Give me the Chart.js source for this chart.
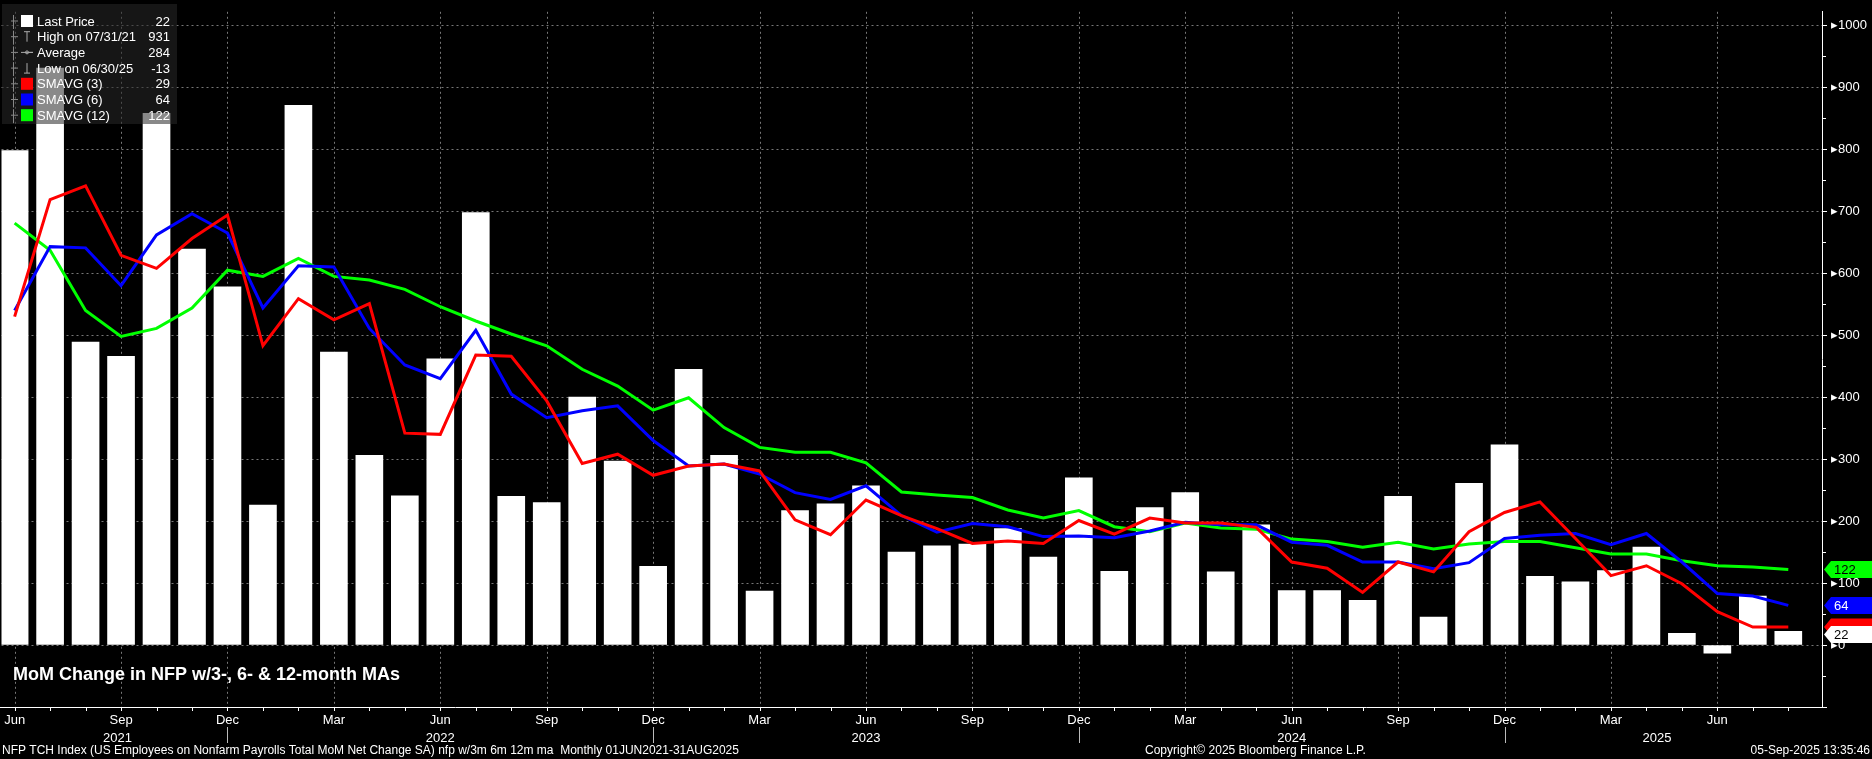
<!DOCTYPE html>
<html>
<head>
<meta charset="utf-8">
<script src="https://cdn.jsdelivr.net/npm/chart.js@4.4.1/dist/chart.umd.min.js"></script>
<style>
  html, body { margin: 0; padding: 0; background: #000; }
  #wrap { width: 1872px; height: 759px; position: relative; }
</style>
</head>
<body>
<div id="wrap"><canvas id="grafico"></canvas></div>
<script>
// ---------- dados (Jun 2021 .. Aug 2025, mensal) ----------
const meses = ['Jun','Jul','Aug','Sep','Oct','Nov','Dec','Jan','Feb','Mar','Apr','May'];
const labels = [];
for (let i = 0; i < 51; i++) labels.push(meses[i % 12]);

const nfp = [798, 931, 489, 466, 858, 639, 578, 226, 871, 473, 306, 241,
             462, 698, 240, 230, 400, 297, 127, 445, 306, 87, 217, 228,
             257, 150, 160, 163, 188, 142, 270, 119, 222, 246, 118, 194,
             88, 88, 72, 240, 45, 261, 323, 111, 102, 120, 158, 19,
             -13, 79, 22];

const sma3 = [530, 719, 741, 629, 608, 656, 694, 483, 559, 525, 551, 342,
              340, 468, 466, 394, 293, 308, 274, 289, 292, 281, 202, 178,
              234, 209, 188, 164, 168, 164, 201, 179, 205, 197, 197, 190,
              134, 124, 85, 134, 118, 183, 214, 231, 172, 112, 128, 99,
              54, 29, 29];

const sma6 = [540, 643, 641, 580, 662, 696, 665, 544, 612, 610, 511, 452,
              430, 508, 405, 367, 378, 386, 330, 289, 292, 276, 246, 235,
              257, 209, 182, 196, 191, 175, 176, 173, 184, 198, 194, 194,
              166, 161, 134, 134, 123, 133, 172, 177, 180, 162, 180, 134,
              83, 79, 64];

const sma12 = [681, 637, 540, 498, 511, 544, 605, 595, 624, 595, 589, 574,
               546, 523, 502, 483, 445, 418, 379, 399, 351, 319, 311, 311,
               294, 247, 242, 238, 218, 205, 217, 191, 183, 197, 189, 187,
               171, 167, 158, 166, 155, 163, 167, 167, 157, 147, 147, 136,
               128, 126, 122];

// rótulos do eixo X
const trimestres = [0, 3, 6, 9, 12, 15, 18, 21, 24, 27, 30, 33, 36, 39, 42, 45, 48];
const anos = [{ t: '2021', i: 2.9 }, { t: '2022', i: 12 }, { t: '2023', i: 24 },
              { t: '2024', i: 36 }, { t: '2025', i: 46.3 }];
const divisoresAno = [6, 18, 30, 42];

const legenda = [
  { txt: 'Last Price', val: '22', cor: '#ffffff', tipo: 'box' },
  { txt: 'High on 07/31/21', val: '931', tipo: 'high' },
  { txt: 'Average', val: '284', tipo: 'avg' },
  { txt: 'Low on 06/30/25', val: '-13', tipo: 'low' },
  { txt: 'SMAVG (3)', val: '29', cor: '#ff0000', tipo: 'box' },
  { txt: 'SMAVG (6)', val: '64', cor: '#0000ff', tipo: 'box' },
  { txt: 'SMAVG (12)', val: '122', cor: '#00ff00', tipo: 'box' }
];

const FONTE = '"Liberation Sans", Arial, sans-serif';

const pts = arr => arr.map((v, i) => ({ x: i, y: v }));

// ---------- plugin: eixo X, legenda e etiquetas ----------
const extras = {
  id: 'extras',
  beforeDatasetsDraw(chart) {
    const { ctx, chartArea: a, scales: { x } } = chart;
    ctx.save();
    ctx.strokeStyle = '#777';
    ctx.lineWidth = 1;
    ctx.setLineDash([2, 3]);
    trimestres.forEach(i => {
      const px = Math.round(x.getPixelForValue(i)) + 0.5;
      ctx.beginPath(); ctx.moveTo(px, a.top); ctx.lineTo(px, a.bottom); ctx.stroke();
    });
    ctx.restore();
  },
  afterDraw(chart) {
    const { ctx, chartArea: a, scales: { x, y } } = chart;
    ctx.save();

    // linha do eixo X + marcas
    ctx.strokeStyle = '#fff';
    ctx.lineWidth = 1;
    ctx.beginPath(); ctx.moveTo(0, a.bottom + 0.5); ctx.lineTo(a.right, a.bottom + 0.5); ctx.stroke();
    for (let i = 0; i < 51; i++) {
      const px = Math.round(x.getPixelForValue(i)) + 0.5;
      ctx.beginPath(); ctx.moveTo(px, a.bottom); ctx.lineTo(px, a.bottom + 4); ctx.stroke();
    }
    ctx.fillStyle = '#fff';
    ctx.font = '13px ' + FONTE;
    ctx.textAlign = 'center';
    ctx.textBaseline = 'middle';
    trimestres.forEach(i => ctx.fillText(labels[i], x.getPixelForValue(i), a.bottom + 13));
    anos.forEach(o => ctx.fillText(o.t, x.getPixelForValue(o.i), a.bottom + 31));
    ctx.strokeStyle = '#bbb';
    divisoresAno.forEach(i => {
      const px = Math.round(x.getPixelForValue(i)) + 0.5;
      ctx.beginPath(); ctx.moveTo(px, a.bottom + 20); ctx.lineTo(px, a.bottom + 36); ctx.stroke();
    });

    // marcas menores do eixo Y (50s)
    ctx.strokeStyle = '#fff';
    for (let v = -50; v <= 1000; v += 100) {
      const py = Math.round(y.getPixelForValue(v)) + 0.5;
      ctx.beginPath(); ctx.moveTo(a.right, py); ctx.lineTo(a.right + 4, py); ctx.stroke();
    }

    // rodapé
    ctx.font = '12px ' + FONTE;
    ctx.textAlign = 'left';
    ctx.fillText('NFP TCH Index (US Employees on Nonfarm Payrolls Total MoM Net Change SA) nfp w/3m 6m 12m ma  Monthly 01JUN2021-31AUG2025', 2, 751);
    ctx.fillText('Copyright\u00a9 2025 Bloomberg Finance L.P.', 1145, 751);
    ctx.textAlign = 'right';
    ctx.fillText('05-Sep-2025 13:35:46', 1870, 751);

    // título
    ctx.font = 'bold 18px ' + FONTE;
    ctx.textAlign = 'left';
    ctx.fillText('MoM Change in NFP w/3-, 6- & 12-month MAs', 13, 675);

    // legenda
    ctx.fillStyle = 'rgba(40,40,40,0.55)';
    ctx.fillRect(2, 4, 175, 120);
    ctx.font = '13px ' + FONTE;
    legenda.forEach((l, k) => {
      const ly = 21 + k * 15.7;
      ctx.strokeStyle = '#888';
      ctx.beginPath(); ctx.moveTo(13.5, ly - 6); ctx.lineTo(13.5, ly + 8); ctx.moveTo(11, ly); ctx.lineTo(18, ly); ctx.stroke();
      if (l.tipo === 'box') {
        ctx.fillStyle = l.cor;
        ctx.fillRect(21, ly - 6, 12, 12);
      } else {
        ctx.strokeStyle = '#aaa';
        ctx.beginPath();
        if (l.tipo === 'high') { ctx.moveTo(24, ly - 5); ctx.lineTo(30, ly - 5); ctx.moveTo(27, ly - 5); ctx.lineTo(27, ly + 5); }
        if (l.tipo === 'low') { ctx.moveTo(24, ly + 5); ctx.lineTo(30, ly + 5); ctx.moveTo(27, ly - 5); ctx.lineTo(27, ly + 5); }
        if (l.tipo === 'avg') { ctx.moveTo(21, ly); ctx.lineTo(33, ly); ctx.arc(27, ly, 1.5, 0, Math.PI * 2); }
        ctx.stroke();
      }
      ctx.fillStyle = '#fff';
      ctx.textAlign = 'left';
      ctx.fillText(l.txt, 37, ly + 1);
      ctx.textAlign = 'right';
      ctx.fillText(l.val, 170, ly + 1);
    });

    // etiquetas no eixo direito
    const tag = (v, txt, fundo, corTxt, h) => {
      const py = y.getPixelForValue(v);
      const x0 = a.right + 2;
      ctx.fillStyle = fundo;
      ctx.beginPath();
      ctx.moveTo(x0, py);
      ctx.lineTo(x0 + 7, py - h / 2);
      ctx.lineTo(1872, py - h / 2);
      ctx.lineTo(1872, py + h / 2);
      ctx.lineTo(x0 + 7, py + h / 2);
      ctx.closePath();
      ctx.fill();
      if (txt) {
        ctx.fillStyle = corTxt;
        ctx.textAlign = 'left';
        ctx.font = '13px ' + FONTE;
        ctx.fillText(txt, x0 + 10, py + 1);
      }
    };
    tag(122, '122', '#00ff00', '#000', 17);
    tag(64, '64', '#0000ff', '#fff', 17);
    tag(29, '', '#ff0000', '#fff', 17);
    tag(17, '22', '#ffffff', '#000', 17);

    ctx.restore();
  }
};

const linha = (label, data, cor) => ({
  type: 'line', label, data: pts(data), borderColor: cor, backgroundColor: cor,
  borderWidth: 3, pointRadius: 0, tension: 0, order: 1
});

new Chart(document.getElementById('grafico'), {
  type: 'bar',
  data: {
    datasets: [
      { label: 'Last Price', data: pts(nfp), backgroundColor: '#ffffff', barThickness: 27, order: 2 },
      linha('SMAVG (3)', sma3, '#ff0000'),
      linha('SMAVG (6)', sma6, '#0000ff'),
      linha('SMAVG (12)', sma12, '#00ff00')
    ]
  },
  options: {
    responsive: true,
    maintainAspectRatio: false,
    animation: false,
    layout: { padding: { left: 0, top: 0, right: 0, bottom: 52 } },
    plugins: { legend: { display: false }, tooltip: { enabled: false } },
    scales: {
      x: { type: 'linear', display: false, min: -0.37, max: 50.95, offset: false },
      y: {
        position: 'right',
        min: -100, max: 1022,
        afterFit(s) { s.width = 50; },
        afterBuildTicks(s) {
          const t = [];
          for (let v = -100; v <= 1000; v += 100) t.push({ value: v });
          s.ticks = t;
        },
        ticks: {
          color: '#fff',
          font: { size: 13, family: FONTE },
          padding: 4,
          callback: v => (v >= 0 ? '\u25B8' + v : '')
        },
        border: { display: true, color: '#fff' },
        grid: {
          color: '#777',
          tickColor: '#fff',
          tickLength: 5,
          lineWidth: 1
        }
      }
    }
  },
  plugins: [extras]
});

// grade horizontal pontilhada
Chart.defaults.borderColor = '#777';
</script>
<script>
// aplica o tracejado à grade do eixo Y
(function () {
  const c = Chart.getChart('grafico');
  c.options.scales.y.border.dash = [2, 3];
  c.update();
})();
</script>
</body>
</html>
